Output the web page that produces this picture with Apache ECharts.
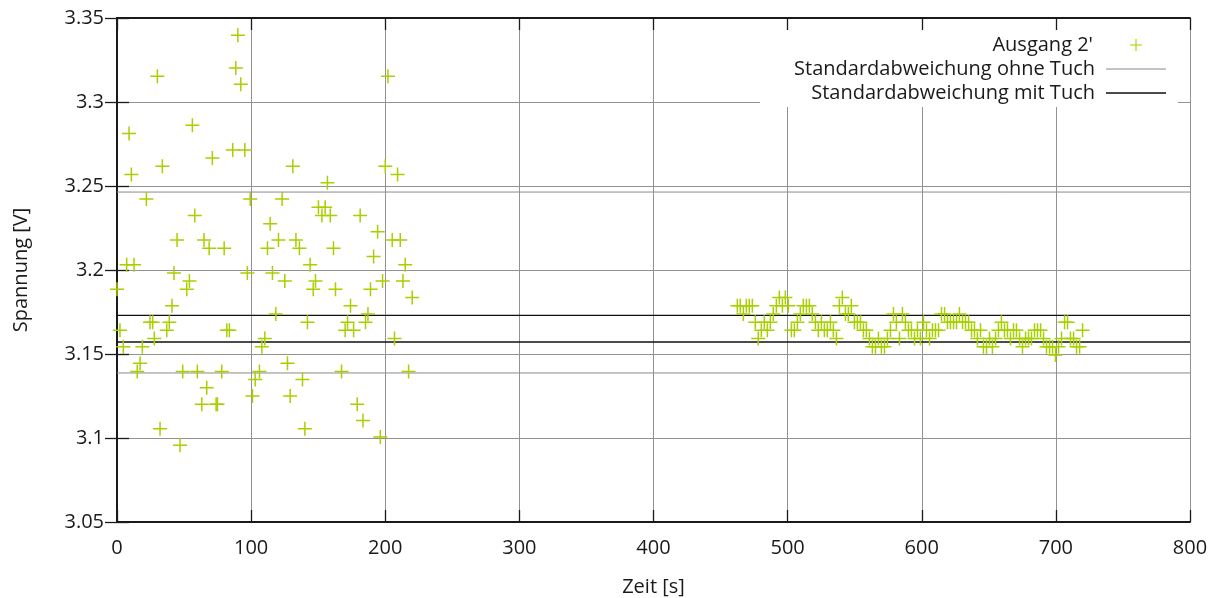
<!DOCTYPE html>
<html><head><meta charset="utf-8">
<script src="https://cdn.jsdelivr.net/npm/echarts@6/dist/echarts.min.js"></script>
<style>html,body{margin:0;padding:0;background:#fff}#c{width:1212px;height:598px}</style>
</head><body><div id="c"></div>
<script>
// ---- data ----
const yTickLabels = ['3.05', '3.1', '3.15', '3.2', '3.25', '3.3', '3.35'];
const xTickLabels = ['0', '100', '200', '300', '400', '500', '600', '700', '800'];

// first measurement (ohne Tuch) : time [s]
const timeA = [0, 2.2, 4.7, 7.2, 9.0, 10.7, 12.7, 15.1, 17.2, 18.9, 21.9, 24.6, 26.6, 27.8, 30.1, 32.1, 33.8, 37.1, 39.0, 41.0,
  42.5, 44.8, 47.0, 49.0, 52.0, 54.0, 56.2, 58.0, 59.9, 63.2, 64.9, 66.9, 68.7, 71.1, 73.9, 74.9, 78.1, 79.9, 81.9, 83.8,
  86.3, 88.6, 90.1, 92.3, 95.3, 97.2, 99.3, 101.0, 103.0, 106.2, 108.0, 110.2, 112.2, 114.2, 115.9, 118.4, 120.4, 123.1, 125.1, 127.1,
  129.1, 131.1, 133.4, 136.0, 138.3, 140.1, 142.0, 144.0, 146.3, 148.0, 150.2, 152.8, 155.2, 156.9, 159.0, 161.4, 162.9, 167.4, 170.1, 171.9,
  174.1, 176.4, 179.1, 181.3, 183.4, 185.3, 187.1, 189.0, 191.3, 194.3, 196.3, 198.0, 200.0, 202.0, 205.2, 206.9, 209.2, 211.2, 213.2, 214.9,
  217.4, 220.1];
const voltA = [3.1885, 3.1641, 3.1543, 3.2031, 3.2813, 3.2568, 3.2031, 3.1396, 3.1445, 3.1543, 3.2422, 3.1689, 3.1689, 3.1592, 3.3154, 3.1055, 3.2617, 3.1641, 3.1689, 3.1787,
  3.1982, 3.2178, 3.0957, 3.1396, 3.1885, 3.1934, 3.2861, 3.2324, 3.1396, 3.1201, 3.2178, 3.1299, 3.2129, 3.2666, 3.1201, 3.1201, 3.1396, 3.2129, 3.1641, 3.1641,
  3.2715, 3.3203, 3.3398, 3.3105, 3.2715, 3.1982, 3.2422, 3.1250, 3.1348, 3.1396, 3.1543, 3.1592, 3.2129, 3.2275, 3.1982, 3.1738, 3.2178, 3.2422, 3.1934, 3.1445,
  3.1250, 3.2617, 3.2178, 3.2129, 3.1348, 3.1055, 3.1689, 3.2031, 3.1885, 3.1934, 3.2373, 3.2324, 3.2373, 3.2520, 3.2324, 3.2129, 3.1885, 3.1396, 3.1641, 3.1689,
  3.1787, 3.1641, 3.1201, 3.2324, 3.1104, 3.1689, 3.1738, 3.1885, 3.2080, 3.2227, 3.1006, 3.1934, 3.2617, 3.3154, 3.2178, 3.1592, 3.2568, 3.2178, 3.1934, 3.2031,
  3.1396, 3.1836];

// second measurement (mit Tuch)
const timeB = [462.5, 464.7, 467.0, 469.2, 471.4, 473.7, 475.9, 478.1, 480.4, 482.6, 484.9, 487.1, 489.3, 491.6, 493.8, 496.1, 498.3, 500.5, 502.8, 505.0,
  507.3, 509.5, 511.7, 514.0, 516.2, 518.4, 520.7, 522.9, 525.2, 527.4, 529.6, 531.9, 534.1, 536.4, 538.6, 540.8, 543.1, 545.3, 547.5, 549.8,
  552.0, 554.3, 556.5, 558.7, 561.0, 563.2, 565.5, 567.7, 569.9, 572.2, 574.4, 576.7, 578.9, 581.1, 583.4, 585.6, 587.8, 590.1, 592.3, 594.6,
  596.8, 599.0, 601.3, 603.5, 605.8, 608.0, 610.2, 612.5, 614.7, 617.0, 619.2, 621.4, 623.7, 625.9, 628.1, 630.4, 632.6, 634.9, 637.1, 639.3,
  641.5, 643.8, 646.0, 648.3, 650.5, 652.7, 655.0, 657.2, 659.4, 661.7, 663.9, 666.2, 668.4, 670.6, 672.9, 675.1, 677.4, 679.6, 681.8, 684.1,
  686.3, 688.6, 690.8, 693.0, 695.3, 697.5, 699.7, 702.0, 704.2, 706.5, 708.7, 710.9, 713.2, 715.4, 717.7, 719.9];
const voltB = [3.1787, 3.1787, 3.1738, 3.1787, 3.1787, 3.1787, 3.1689, 3.1592, 3.1641, 3.1689, 3.1641, 3.1689, 3.1738, 3.1787, 3.1836, 3.1787, 3.1836, 3.1787, 3.1641, 3.1641,
  3.1689, 3.1738, 3.1787, 3.1787, 3.1787, 3.1738, 3.1689, 3.1641, 3.1689, 3.1641, 3.1641, 3.1689, 3.1641, 3.1592, 3.1787, 3.1836, 3.1738, 3.1738, 3.1787, 3.1689,
  3.1689, 3.1689, 3.1641, 3.1641, 3.1592, 3.1543, 3.1543, 3.1592, 3.1543, 3.1543, 3.1592, 3.1641, 3.1738, 3.1689, 3.1592, 3.1738, 3.1689, 3.1641, 3.1641, 3.1592,
  3.1641, 3.1592, 3.1689, 3.1641, 3.1592, 3.1641, 3.1641, 3.1641, 3.1738, 3.1738, 3.1689, 3.1689, 3.1689, 3.1689, 3.1738, 3.1689, 3.1689, 3.1689, 3.1641, 3.1641,
  3.1592, 3.1641, 3.1543, 3.1543, 3.1592, 3.1543, 3.1592, 3.1641, 3.1689, 3.1641, 3.1641, 3.1592, 3.1641, 3.1641, 3.1592, 3.1543, 3.1592, 3.1592, 3.1592, 3.1641,
  3.1641, 3.1641, 3.1592, 3.1543, 3.1543, 3.1543, 3.1494, 3.1543, 3.1592, 3.1689, 3.1689, 3.1592, 3.1592, 3.1543, 3.1543, 3.1641];

// standard deviation bands [lower, upper]
const stdOhneTuch = [3.1387, 3.2464];
const stdMitTuch = [3.1571, 3.1730];

const seriesNames = ["Ausgang 2'", 'Standardabweichung ohne Tuch', 'Standardabweichung mit Tuch'];

// ---- chart ----
const FONT = "'Open Sans', 'Noto Sans', sans-serif";
const xMin = 0, xMax = 800;
const scatterData = timeA.map((t, i) => [t, voltA[i]]).concat(timeB.map((t, i) => [t, voltB[i]]));
const hLine = v => [[xMin, v], [xMax, v]];
const plusPath = 'path://M0,6.25H14V7.75H0Z M6.25,0H7.75V14H6.25Z';
const legendPlus = 'path://M0,5.45H12V6.55H0Z M5.45,0H6.55V12H5.45Z';

const chart = echarts.init(document.getElementById('c'), null, {renderer: 'canvas'});
const axisLine = {show: true, lineStyle: {color: '#1a1a1a', width: 2}};
const tick = {show: true, inside: true, length: 12, lineStyle: {color: '#1a1a1a', width: 1.3}};
const split = {show: true, lineStyle: {color: '#929292', width: 1}};
const lbl = {fontFamily: FONT, fontSize: 20, color: '#1a1a1a'};
const GREEN = '#a8cf00';

function lineSeries(name, v, color, width) {
  return {
    type: 'line', name: name, data: hLine(v), symbol: 'none', silent: true,
    lineStyle: {color: color, width: width}, itemStyle: {color: color}, z: 3, animation: false
  };
}

const legendText = pad => ({fontFamily: FONT, fontSize: 20, color: '#1a1a1a', padding: [0, pad, 0, 0]});

chart.setOption({
  animation: false,
  backgroundColor: '#ffffff',
  grid: {left: 117, right: 22, top: 18, bottom: 76, containLabel: false, outerBoundsMode: 'none'},
  xAxis: [
    {type: 'value', min: xMin, max: xMax, interval: 100, position: 'bottom',
     name: 'Zeit [s]', nameLocation: 'middle', nameGap: 55, nameTextStyle: lbl,
     axisLine: axisLine, axisTick: tick, splitLine: split,
     axisLabel: Object.assign({margin: 16, formatter: (v, i) => xTickLabels[i]}, lbl)},
    {type: 'value', min: xMin, max: xMax, interval: 100, position: 'top',
     axisLine: axisLine, axisTick: tick, splitLine: {show: false}, axisLabel: {show: false}}
  ],
  yAxis: [
    {type: 'value', min: 3.05, max: 3.35, interval: 0.05, position: 'left',
     name: 'Spannung [V]', nameLocation: 'middle', nameGap: 86, nameTextStyle: lbl,
     axisLine: axisLine, axisTick: tick, splitLine: split,
     axisLabel: Object.assign({margin: 13, formatter: (v, i) => yTickLabels[i]}, lbl)},
    {type: 'value', min: 3.05, max: 3.35, interval: 0.05, position: 'right',
     axisLine: axisLine, axisTick: tick, splitLine: {show: false}, axisLabel: {show: false}}
  ],
  graphic: [{type: 'rect', shape: {x: 760, y: 30, width: 418, height: 77}, style: {fill: '#ffffff'}, z: 1, silent: true}],
  legend: [
    {orient: 'vertical', align: 'right', padding: 0, selectedMode: false,
     itemWidth: 12, itemHeight: 12, right: 70, top: 35,
     textStyle: legendText(32),
     data: [{name: seriesNames[0], icon: legendPlus}]},
    {orient: 'vertical', align: 'right', padding: 0, selectedMode: false,
     itemWidth: 60, itemHeight: 13, right: 46, top: 59,
     textStyle: legendText(6),
     data: [{name: seriesNames[1], icon: 'path://M0,0H600V10H0Z'}]},
    {orient: 'vertical', align: 'right', padding: 0, selectedMode: false,
     itemWidth: 60, itemHeight: 13, right: 46, top: 83,
     textStyle: legendText(6),
     data: [{name: seriesNames[2], icon: 'path://M0,0H600V14H0Z'}]}
  ],
  series: [
    {type: 'scatter', name: seriesNames[0], data: scatterData, symbol: plusPath, symbolSize: 14,
     itemStyle: {color: GREEN, opacity: 1}, z: 4, animation: false},
    lineSeries(seriesNames[1], stdOhneTuch[1], '#8a8a8a', 1),
    lineSeries(seriesNames[1], stdOhneTuch[0], '#8a8a8a', 1),
    lineSeries(seriesNames[2], stdMitTuch[1], '#111111', 1.4),
    lineSeries(seriesNames[2], stdMitTuch[0], '#111111', 1.4)
  ]
});
</script>
</body></html>
